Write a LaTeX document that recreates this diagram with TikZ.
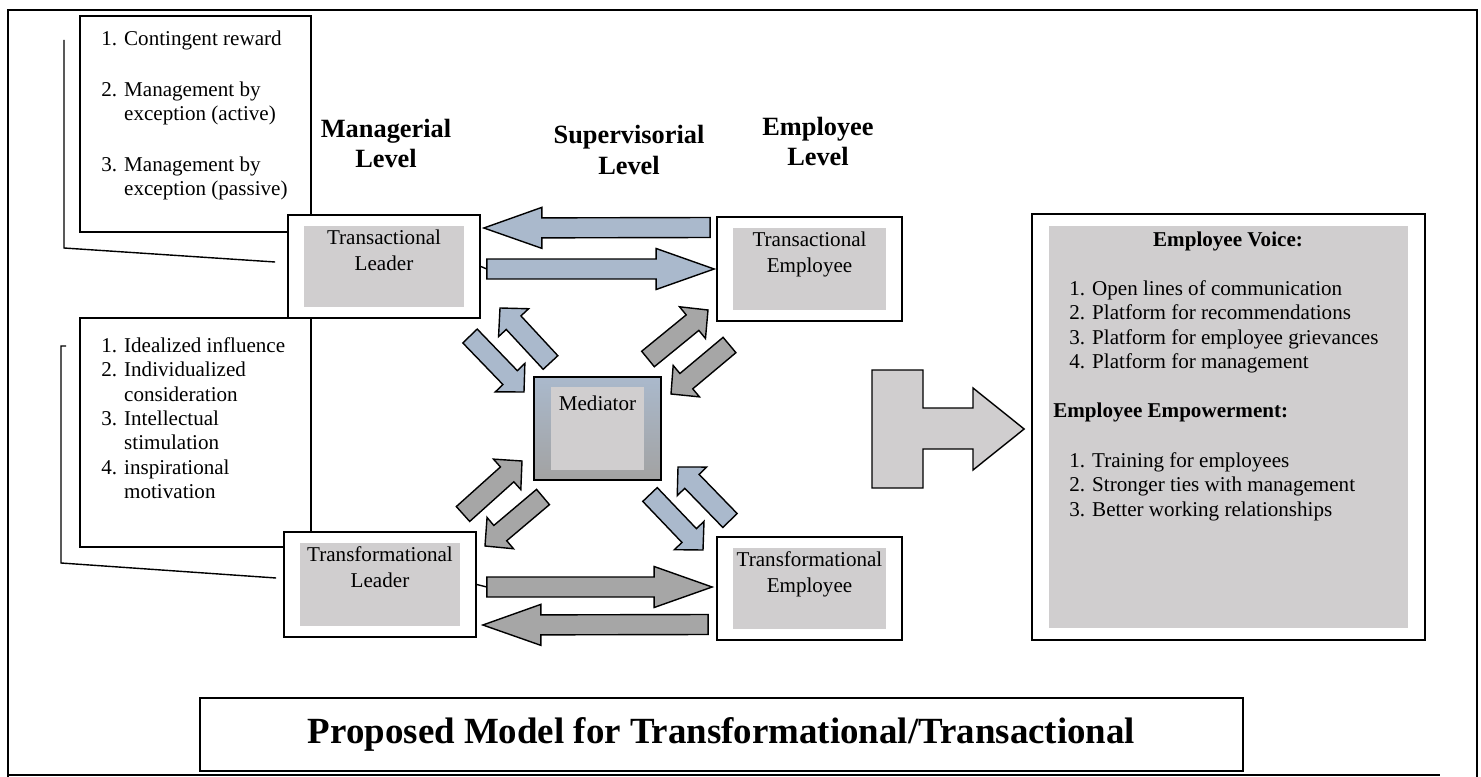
\documentclass[tikz,border=0pt,12pt]{standalone}
\usepackage{fontspec}
\setmainfont{Liberation Serif}
\usetikzlibrary{calc,positioning}

\definecolor{arrowblue}{HTML}{AAB9CC}
\definecolor{arrowgray}{HTML}{A6A6A6}
\definecolor{boxgray}{HTML}{D0CECF}
\definecolor{medgray}{HTML}{A2A2A2}

\tikzset{
  inset/.style={path picture={\fill[boxgray]
      ($(path picture bounding box.south west)+(#1)$) rectangle
      ($(path picture bounding box.north east)-(#1)$);}},
  rolebox/.style={draw, line width=1pt, fill=white, inset={#1}},
  rolebox/.default={0.32cm,0.22cm},
  rolename/.style={anchor=north, inner sep=0pt, align=center, yshift=-#1},
  rolename/.default=0.31cm,
  listbox/.style={draw, line width=1pt, fill=white},
  listtext/.style={anchor=north west, inner sep=0pt, align=left,
    font=\fontsize{12}{13.9}\selectfont},
  heading/.style={inner sep=0pt, align=center,
    font=\bfseries\fontsize{15}{17.6}\selectfont},
  bracket/.style={line width=0.8pt},
  % block arrow as a to path: shaft half width / head half width / head length
  blockarrow/.style args={#1/#2/#3}{draw, line width=0.8pt, to path={
      ($(\tikztostart)!#1!90:(\tikztotarget)$)
      -- ($(\tikztotarget)!#3!(\tikztostart)!#1!90:(\tikztotarget)$)
      -- ($(\tikztotarget)!#3!(\tikztostart)!#2!90:(\tikztotarget)$)
      -- (\tikztotarget)
      -- ($(\tikztotarget)!#3!(\tikztostart)!#2!-90:(\tikztotarget)$)
      -- ($(\tikztotarget)!#3!(\tikztostart)!#1!-90:(\tikztotarget)$)
      -- ($(\tikztostart)!#1!-90:(\tikztotarget)$) -- cycle}},
  longflow/.style={blockarrow=0.2cm/0.41cm/1.16cm, fill=#1},
  shortflow/.style={blockarrow=0.2cm/0.41cm/0.4cm, fill=#1},
}

\begin{document}
\begin{tikzpicture}[x=0.02cm, y=-0.02cm]
  \useasboundingbox (0,0) rectangle (1481,777);

  % page frame
  \draw[line width=1.2pt] (8,777) -- (8,10) -- (1477,10) -- (1477,777);
  \draw[line width=1.6pt] (8,775) -- (1440,775);

  % leadership behaviours
  \node[listbox, minimum width=4.62cm, minimum height=4.32cm] (tsbox) at (195.5,124) {};
  \node[listtext] (tslist) at (101,31) {1. Contingent reward\\[0.52cm]
    2. Management by\\\phantom{2. }exception (active)\\[0.52cm]
    3. Management by\\\phantom{3. }exception (passive)};
  \node[listbox, minimum width=4.62cm, minimum height=4.58cm] (tfbox) at (195.5,432.5) {};
  \node[listtext] (tflist) at (101,337) {1. Idealized influence\\
    2. Individualized\\\phantom{2. }consideration\\
    3. Intellectual\\\phantom{3. }stimulation\\
    4. inspirational\\\phantom{4. }motivation};

  % levels
  \node[heading] (mgr) at (386,143.5) {Managerial\\Level};
  \node[heading] (sup) at (629,150) {Supervisorial\\Level};
  \node[heading] (emp) at (818,141.5) {Employee\\Level};

  % leaders and employees
  \node[rolebox, minimum width=3.84cm, minimum height=2.06cm,
    label={[rolename]north:Transactional\\Leader}] (tl) at (384,266.5) {};
  \node[rolebox, minimum width=3.7cm, minimum height=2.08cm,
    label={[rolename]north:Transactional\\Employee}] (te) at (809.5,269) {};
  \node[rolebox, minimum width=3.84cm, minimum height=2.1cm,
    label={[rolename]north:Transformational\\Leader}] (fl) at (380,584.5) {};
  \node[rolebox, minimum width=3.7cm, minimum height=2.06cm,
    label={[rolename]north:Transformational\\Employee}] (fe) at (809.5,588.5) {};

  \draw[bracket] (64,40) -- (64,248) -- ($(tl.west)+(-12,-4.5)$);
  \draw[bracket] (66,346) -- (61,346) -- (61,563) -- ($(fl.west)+(-7,-6.5)$);

  % mediator
  \node[draw, line width=1pt, top color=arrowblue, bottom color=medgray,
    inset={0.34cm,0.2cm}, minimum width=2.54cm, minimum height=2.06cm,
    label={[rolename=0.38cm]north:Mediator}] (med) at (597.5,428.5) {};

  % horizontal flows
  \coordinate (ts-back) at ($(te.west)+(-6,-41.5)$);
  \coordinate (ts-back-tip) at ($(tl.east)+(3,-38.5)$);
  \coordinate (ts-fwd) at ($(tl.east)+(6,2.5)$);
  \coordinate (ts-fwd-tip) at ($(te.west)+(-2,0)$);
  \coordinate (tf-fwd) at ($(fl.east)+(10,2.5)$);
  \coordinate (tf-fwd-tip) at ($(fe.west)+(-4,-1.5)$);
  \coordinate (tf-back) at ($(fe.west)+(-8,36)$);
  \coordinate (tf-back-tip) at ($(fl.east)+(6,40.5)$);

  \draw[longflow=arrowblue] (ts-back) to (ts-back-tip);
  \draw[bracket] (tl.east) -- (ts-fwd);
  \draw[longflow=arrowblue] (ts-fwd) to (ts-fwd-tip);
  \draw[bracket] (fl.east) -- (tf-fwd);
  \draw[longflow=arrowgray] (tf-fwd) to (tf-fwd-tip);
  \draw[longflow=arrowgray] (tf-back) to (tf-back-tip);

  % flows through the mediator
  \coordinate (tl-med) at (470,336);     \coordinate (tl-med-tip) at (524,392);
  \coordinate (med-tl) at (550.5,362.5); \coordinate (med-tl-tip) at (500,308);
  \coordinate (med-te) at (648,359);     \coordinate (med-te-tip) at (708,310);
  \coordinate (te-med) at (729.5,345);   \coordinate (te-med-tip) at (671,394);
  \coordinate (fl-med) at (463,514);     \coordinate (fl-med-tip) at (522,461);
  \coordinate (med-fl) at (543,497);     \coordinate (med-fl-tip) at (485,546);
  \coordinate (med-fe) at (650,494.5);   \coordinate (med-fe-tip) at (703,550);
  \coordinate (fe-med) at (730,520.5);   \coordinate (fe-med-tip) at (678,467);

  \draw[shortflow=arrowblue] (tl-med) to (tl-med-tip);
  \draw[shortflow=arrowblue] (med-tl) to (med-tl-tip);
  \draw[shortflow=arrowgray] (med-te) to (med-te-tip);
  \draw[shortflow=arrowgray] (te-med) to (te-med-tip);
  \draw[shortflow=arrowgray] (fl-med) to (fl-med-tip);
  \draw[shortflow=arrowgray] (med-fl) to (med-fl-tip);
  \draw[shortflow=arrowblue] (med-fe) to (med-fe-tip);
  \draw[shortflow=arrowblue] (fe-med) to (fe-med-tip);

  % outcomes
  \node[rolebox={0.34cm,0.23cm}, minimum width=7.86cm, minimum height=8.52cm] (ev) at (1228.5,427) {};
  \node[anchor=north, inner sep=0pt, font=\bfseries] (voicehd) at (1228,232) {Employee Voice:};
  \node[listtext] (voicelist) at (1069,280) {1. Open lines of communication\\
    2. Platform for recommendations\\
    3. Platform for employee grievances\\
    4. Platform for management};
  \node[listtext, font=\bfseries] (emphd) at (1053,403) {Employee Empowerment:};
  \node[listtext] (emplist) at (1069,452) {1. Training for employees\\
    2. Stronger ties with management\\
    3. Better working relationships};

  \draw[line width=0.8pt, fill=boxgray] (872,370) -- (923,370) -- (923,408)
    -- (973,408) -- (973,388) -- ($(ev.west)+(-7,2)$) -- (973,470) -- (973,449)
    -- (923,449) -- (923,488) -- (872,488) -- cycle;

  % title
  \node[draw, line width=1pt, minimum width=20.86cm, minimum height=1.46cm,
    font=\bfseries\fontsize{21}{25}\selectfont] (title) at (721.5,734.5)
    {Proposed Model for Transformational/Transactional};
\end{tikzpicture}
\end{document}
